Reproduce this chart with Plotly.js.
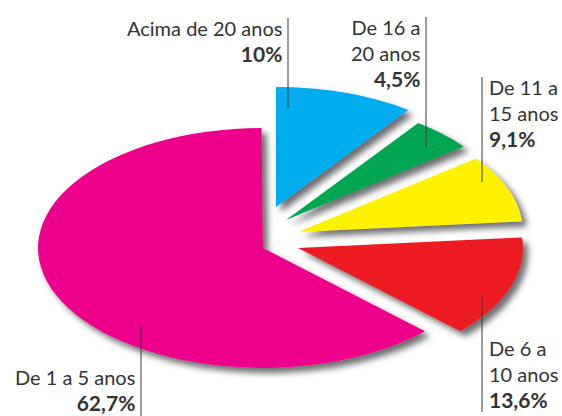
<!DOCTYPE html>
<html><head><meta charset="utf-8">
<script src="https://cdn.plot.ly/plotly-3.0.1.min.js"></script>
<style>html,body{margin:0;padding:0;background:#fff;overflow:hidden}</style></head>
<body><div id="chart" style="width:562px;height:416px"></div>
<script>
const categories = ["Acima de 20 anos","De 16 a 20 anos","De 11 a 15 anos","De 6 a 10 anos","De 1 a 5 anos"];
const values = [10, 4.5, 9.1, 13.6, 62.7];
const valueLabels = ["10%","4,5%","9,1%","13,6%","62,7%"];
const colors = ["#00AEEF","#00A651","#FFF200","#ED1C24","#EC008C"];
const labelLines = [["Acima de 20 anos"],["De 16 a","20 anos"],["De 11 a","15 anos"],["De 6 a","10 anos"],["De 1 a 5 anos"]];

// layout of the exploded slices: apex in page pixels, radii of the flattened ellipse
const apexX = [276, 286, 298, 298, 263];
const apexY = [207, 220, 232, 248, 248];
const radiusX = 225, radiusY = 120, baseR = 100;
const labelX = [283, 421, 488, 488, 136];
const labelY = [15, 14, 74, 335, 364];
const labelAnchor = ["right","right","left","left","right"];
const leaderX = [288, 426, 482, 482, 141];
const leaderTop = [18, 17, 77, 296, 326];
const leaderBottom = [108, 147, 182, 412, 416];

const W = 562, H = 416, sx = radiusX/baseR, sy = radiusY/baseR;
let cum = 0;
const traces = values.map((v,i)=>{
  const cx = apexX[i]/sx, cy = apexY[i]/sy;
  const t = {type:"pie", values:[v,100-v], labels:[categories[i],"resto"+i], sort:false,
    direction:"clockwise", rotation:cum*3.6, textinfo:"none", hoverinfo:"skip", showlegend:false,
    marker:{colors:[colors[i],"rgba(0,0,0,0)"], line:{width:0}},
    domain:{x:[(cx-baseR)/W,(cx+baseR)/W], y:[1-(cy+baseR)/H,1-(cy-baseR)/H]}};
  cum += v;
  return t;
});
const font = {family:"Lato, sans-serif", size:20, color:"#333"};
const annotations = labelLines.map((lines,i)=>({
  xref:"paper", yref:"paper", x:labelX[i]/W, y:1-labelY[i]/H, xanchor:labelAnchor[i], yanchor:"top",
  align:labelAnchor[i], showarrow:false, font:font, borderpad:0,
  text:lines.concat('<span style="font-size:21px"><b>'+valueLabels[i]+'</b></span>').join("<br>")
}));
const shapes = leaderX.map((x,i)=>({type:"line", xref:"paper", yref:"paper", layer:"above",
  x0:x/W, x1:x/W, y0:1-leaderTop[i]/H, y1:1-leaderBottom[i]/H, line:{color:"#3a3a3a", width:1}}));
Plotly.newPlot("chart", traces, {width:W, height:H, margin:{l:0,r:0,t:0,b:0},
  paper_bgcolor:"#fff", annotations, shapes}, {staticPlot:true, displayModeBar:false}).then(gd=>{
  const svg = gd.querySelector("svg.main-svg");
  const NS = "http://www.w3.org/2000/svg";
  const defs = svg.querySelector("defs") || svg.insertBefore(document.createElementNS(NS,"defs"), svg.firstChild);
  const f = document.createElementNS(NS,"filter");
  f.setAttribute("id","sliceShadow");
  f.setAttribute("x","-20%"); f.setAttribute("y","-20%"); f.setAttribute("width","140%"); f.setAttribute("height","140%");
  f.innerHTML = '<feGaussianBlur in="SourceAlpha" stdDeviation="'+(3/sx)+' '+(3/sy)+'" result="b"/>'+
    '<feOffset in="b" dx="'+(5/sx)+'" dy="'+(5/sy)+'" result="o"/>'+
    '<feFlood flood-color="#6d6e71"/><feComposite in2="o" operator="in" result="s"/>'+
    '<feMerge><feMergeNode in="s"/><feMergeNode in="SourceGraphic"/></feMerge>';
  defs.appendChild(f);
  const layer = gd.querySelector(".pielayer");
  layer.setAttribute("transform","scale("+sx+","+sy+")");
  layer.querySelectorAll("g.trace").forEach(g=>g.setAttribute("filter","url(#sliceShadow)"));
});
</script></body></html>
